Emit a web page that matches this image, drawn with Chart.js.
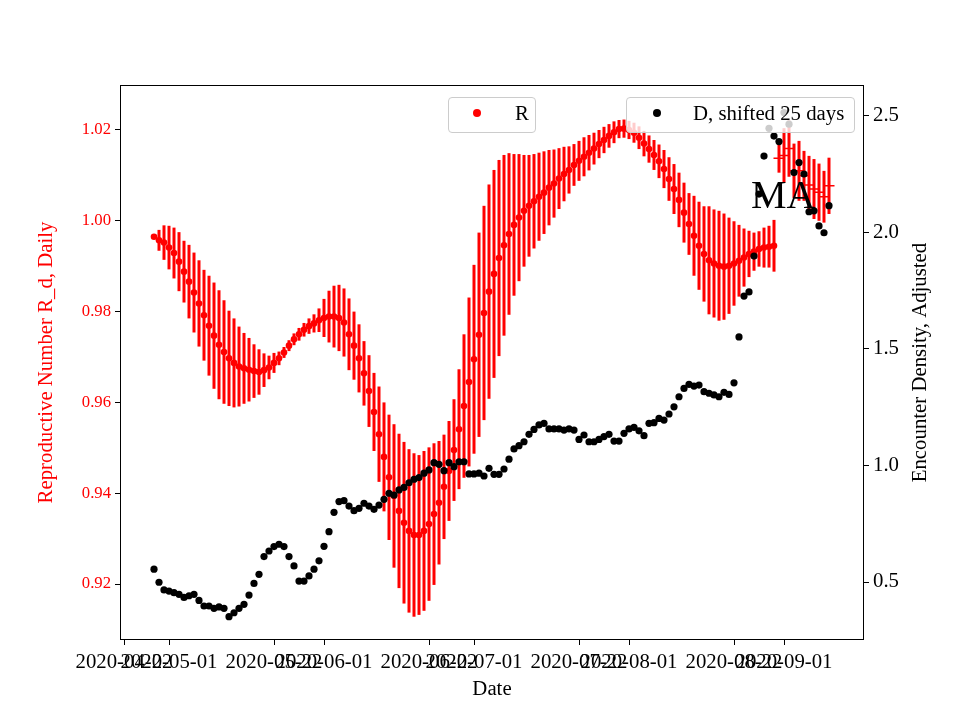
<!DOCTYPE html>
<html>
<head>
<meta charset="utf-8">
<title>R and encounter density</title>
<script src="https://cdn.jsdelivr.net/npm/chart.js@4.4.1/dist/chart.umd.min.js"></script>
<style>
  html, body { margin: 0; padding: 0; background: #fff; }
  #wrap { position: relative; width: 960px; height: 720px; }
  .legenda { position: absolute; box-sizing: border-box; border: 1px solid #cccccc; border-radius: 4px;
             background: rgba(255,255,255,0.8); font-family: 'Liberation Serif', 'Times New Roman', serif; font-size: 20.8px; }
  .legenda .ponto { position: absolute; width: 8px; height: 8px; border-radius: 50%; top: 11px; }
  .legenda .texto { position: absolute; top: 3px; line-height: 24px; white-space: nowrap; color: #000; }
</style>
</head>
<body>
<div id="wrap">
  <canvas id="grafico" width="960" height="720"></canvas>
  <div class="legenda" style="left:448px;top:97px;width:88px;height:36px">
    <span class="ponto" style="left:24px;background:#ff0000"></span>
    <span class="texto" style="left:66px">R</span>
  </div>
  <div class="legenda" style="left:626px;top:97px;width:229px;height:36px">
    <span class="ponto" style="left:26px;background:#000000"></span>
    <span class="texto" style="left:66px">D, shifted 25 days</span>
  </div>
</div>
<script>
// dados (um valor por dia)
const rStart = '2020-04-28';
const rValues = [
  0.9965, 0.9957, 0.9952, 0.9941, 0.9929, 0.9910, 0.9888, 0.9866, 0.9842, 0.9818,
  0.9792, 0.9769, 0.9747, 0.9727, 0.9711, 0.9697, 0.9687, 0.9679, 0.9675, 0.9672,
  0.9669, 0.9667, 0.9671, 0.9677, 0.9687, 0.9697, 0.9710, 0.9725, 0.9739, 0.9750,
  0.9760, 0.9768, 0.9774, 0.9781, 0.9786, 0.9789, 0.9789, 0.9786, 0.9776, 0.9750,
  0.9725, 0.9697, 0.9664, 0.9625, 0.9579, 0.9530, 0.9480, 0.9435, 0.9394, 0.9361,
  0.9335, 0.9317, 0.9308, 0.9308, 0.9317, 0.9332, 0.9354, 0.9379, 0.9414, 0.9449,
  0.9495, 0.9541, 0.9592, 0.9645, 0.9695, 0.9749, 0.9797, 0.9844, 0.9883, 0.9918,
  0.9946, 0.9971, 0.9991, 1.0007, 1.0022, 1.0033, 1.0043, 1.0053, 1.0062, 1.0073,
  1.0082, 1.0093, 1.0103, 1.0112, 1.0123, 1.0132, 1.0141, 1.0150, 1.0159, 1.0169,
  1.0178, 1.0187, 1.0195, 1.0202, 1.0203, 1.0200, 1.0194, 1.0183, 1.0170, 1.0158,
  1.0145, 1.0131, 1.0114, 1.0092, 1.0070, 1.0046, 1.0018, 0.9993, 0.9967, 0.9945,
  0.9927, 0.9913, 0.9906, 0.9901, 0.9899, 0.9901, 0.9906, 0.9912, 0.9919, 0.9927,
  0.9932, 0.9938, 0.9941, 0.9943, 0.9945
];
const rErrors = [
  0.0005, 0.0023, 0.0038, 0.0048, 0.0056, 0.0065, 0.0068, 0.0081, 0.0088, 0.0095,
  0.0100, 0.0110, 0.0117, 0.0120, 0.0114, 0.0105, 0.0098, 0.0088, 0.0078, 0.0070,
  0.0059, 0.0050, 0.0037, 0.0026, 0.0022, 0.0015, 0.0012, 0.0012, 0.0013, 0.0014,
  0.0015, 0.0017, 0.0020, 0.0026, 0.0042, 0.0057, 0.0068, 0.0073, 0.0075, 0.0079,
  0.0075, 0.0075, 0.0071, 0.0079, 0.0086, 0.0105, 0.0120, 0.0138, 0.0158, 0.0170,
  0.0178, 0.0180, 0.0180, 0.0176, 0.0176, 0.0169, 0.0156, 0.0136, 0.0115, 0.0110,
  0.0112, 0.0132, 0.0158, 0.0186, 0.0208, 0.0225, 0.0236, 0.0236, 0.0229, 0.0216,
  0.0199, 0.0178, 0.0156, 0.0140, 0.0123, 0.0112, 0.0104, 0.0097, 0.0091, 0.0083,
  0.0075, 0.0067, 0.0060, 0.0052, 0.0046, 0.0044, 0.0043, 0.0039, 0.0035, 0.0031,
  0.0029, 0.0026, 0.0024, 0.0020, 0.0020, 0.0020, 0.0022, 0.0025, 0.0028, 0.0030,
  0.0033, 0.0037, 0.0042, 0.0048, 0.0055, 0.0060, 0.0066, 0.0068, 0.0088, 0.0097,
  0.0105, 0.0119, 0.0119, 0.0121, 0.0117, 0.0106, 0.0093, 0.0079, 0.0064, 0.0051,
  0.0042, 0.0039, 0.0044, 0.0046, 0.0057
];
const r2Start = '2020-08-31';
const r2Values = [1.0138, 1.0144, 1.0159, 1.0110, 1.0110, 1.0099, 1.0079, 1.0070, 1.0063, 1.0053, 1.0077];
const r2Errors = [0.0032, 0.0060, 0.0062, 0.0060, 0.0066, 0.0055, 0.0064, 0.0066, 0.0063, 0.0057, 0.0062];

const dStart = '2020-04-28';
const dValues = [
  0.555, 0.499, 0.466, 0.461, 0.454, 0.447, 0.434, 0.441, 0.447, 0.421,
  0.397, 0.397, 0.387, 0.393, 0.387, 0.351, 0.368, 0.387, 0.404, 0.444,
  0.494, 0.533, 0.609, 0.633, 0.652, 0.662, 0.652, 0.609, 0.569, 0.504,
  0.504, 0.526, 0.555, 0.591, 0.653, 0.716, 0.799, 0.845, 0.849, 0.826,
  0.806, 0.816, 0.838, 0.826, 0.812, 0.830, 0.855, 0.881, 0.873, 0.895,
  0.906, 0.926, 0.941, 0.948, 0.967, 0.981, 1.012, 1.005, 0.978, 1.012,
  0.995, 1.016, 1.016, 0.964, 0.964, 0.967, 0.955, 0.988, 0.962, 0.962,
  0.985, 1.027, 1.071, 1.085, 1.102, 1.134, 1.155, 1.174, 1.181, 1.157,
  1.157, 1.157, 1.152, 1.157, 1.152, 1.112, 1.131, 1.102, 1.102, 1.112,
  1.124, 1.134, 1.105, 1.105, 1.138, 1.157, 1.164, 1.149, 1.128, 1.181,
  1.184, 1.202, 1.195, 1.221, 1.252, 1.295, 1.331, 1.348, 1.341, 1.345,
  1.317, 1.310, 1.303, 1.295, 1.314, 1.305, 1.355, 1.552, 1.727, 1.745,
  1.899, 2.165, 2.328, 2.447, 2.414, 2.390, 2.515, 2.465, 2.257, 2.300,
  2.251, 2.089, 2.093, 2.028, 1.999, 2.115
];

const xTickLabels = ['2020-04-22', '2020-05-01', '2020-05-22', '2020-06-01', '2020-06-22',
  '2020-07-01', '2020-07-22', '2020-08-01', '2020-08-22', '2020-09-01'];
const rTicks = [0.92, 0.94, 0.96, 0.98, 1.00, 1.02];
const dTicks = [0.5, 1.0, 1.5, 2.0, 2.5];

const fonte = "'Liberation Serif', 'Times New Roman', serif";

// dias contados a partir de 2020-05-01
function diaDe(texto) {
  return (Date.parse(texto) - Date.parse('2020-05-01')) / 86400000;
}

function pontos(inicio, valores) {
  const d0 = diaDe(inicio);
  return valores.map((v, i) => ({ x: d0 + i, y: v }));
}

function barras(inicio, valores, erros) {
  const d0 = diaDe(inicio);
  return valores.map((v, i) => ({ x: d0 + i, y: [v - erros[i], v + erros[i]] }));
}

const extras = {
  id: 'extras',
  afterDatasetsDraw(chart) {
    const ctx = chart.ctx;
    ctx.save();
    ctx.fillStyle = '#000';
    ctx.font = '40px ' + fonte;
    ctx.textBaseline = 'alphabetic';
    ctx.textAlign = 'left';
    ctx.fillText('MA', 751, 208);
    ctx.restore();
  },
  afterDraw(chart) {
    const { ctx, chartArea } = chart;
    ctx.save();
    ctx.strokeStyle = '#000';
    ctx.lineWidth = 1;
    ctx.strokeRect(Math.round(chartArea.left) + 0.5, Math.round(chartArea.top) + 0.5,
      Math.round(chartArea.right - chartArea.left) - 1, Math.round(chartArea.bottom - chartArea.top) - 1);
    ctx.fillStyle = '#000';
    ctx.font = '20.8px ' + fonte;
    ctx.textAlign = 'center';
    ctx.textBaseline = 'middle';
    ctx.translate(921, (chartArea.top + chartArea.bottom) / 2);
    ctx.rotate(-Math.PI / 2);
    ctx.fillText('Encounter Density, Adjusted', 0, 0);
    ctx.restore();
  }
};

const ctx = document.getElementById('grafico').getContext('2d');
const grafico = new Chart(ctx, {
  type: 'scatter',
  data: {
    datasets: [
      {
        label: 'D, shifted 25 days',
        data: pontos(dStart, dValues),
        yAxisID: 'y1',
        backgroundColor: '#000000',
        borderWidth: 0,
        pointRadius: 3.6,
        order: 0
      },
      {
        label: 'R',
        data: pontos(rStart, rValues),
        yAxisID: 'y',
        backgroundColor: '#ff0000',
        borderWidth: 0,
        pointRadius: 3.3,
        order: 1
      },
      {
        label: 'R+',
        data: pontos(r2Start, r2Values),
        yAxisID: 'y',
        pointStyle: 'cross',
        borderColor: '#ff0000',
        borderWidth: 1.5,
        pointRadius: 5.5,
        order: 1
      },
      {
        type: 'bar',
        label: 'R erro',
        data: barras(rStart, rValues, rErrors),
        yAxisID: 'y',
        backgroundColor: '#ff0000',
        grouped: false,
        maxBarThickness: 3,
        order: 2
      },
      {
        type: 'bar',
        label: 'R+ erro',
        data: barras(r2Start, r2Values, r2Errors),
        yAxisID: 'y',
        backgroundColor: '#ff0000',
        grouped: false,
        maxBarThickness: 3,
        order: 2
      }
    ]
  },
  options: {
    responsive: false,
    animation: false,
    devicePixelRatio: 1,
    events: [],
    layout: { padding: { top: 85, left: 0, right: 0, bottom: 0 } },
    plugins: { legend: { display: false }, tooltip: { enabled: false } },
    scales: {
      x: {
        type: 'linear',
        min: -9.8,
        max: 139,
        offset: false,
        afterBuildTicks: (scale) => { scale.ticks = xTickLabels.map(s => ({ value: diaDe(s) })); },
        afterFit: (scale) => { scale.height = 80; },
        ticks: {
          autoSkip: false, maxRotation: 0, minRotation: 0, padding: 5,
          color: '#000', font: { family: fonte, size: 20.8 },
          callback: (v, i) => xTickLabels[i]
        },
        grid: { drawOnChartArea: false, offset: false, tickLength: 5, color: '#000' },
        border: { display: false },
        title: { display: true, text: 'Date', color: '#000', font: { family: fonte, size: 20.8 }, padding: { bottom: 17.5 } }
      },
      y: {
        position: 'left',
        min: 0.90767,
        max: 1.02991,
        afterBuildTicks: (scale) => { scale.ticks = rTicks.map(v => ({ value: v })); },
        afterFit: (scale) => { scale.width = 120; },
        ticks: {
          padding: 4, color: '#ff0000', font: { family: fonte, size: 16.7 },
          callback: (v) => Number(v).toFixed(2)
        },
        grid: { drawOnChartArea: false, tickLength: 5, color: '#000' },
        border: { display: false },
        title: { display: true, text: 'Reproductive Number R_d, Daily', color: '#ff0000', font: { family: fonte, size: 20.8 }, padding: { top: 34.5 } }
      },
      y1: {
        position: 'right',
        min: 0.2511,
        max: 2.633,
        afterBuildTicks: (scale) => { scale.ticks = dTicks.map(v => ({ value: v })); },
        afterFit: (scale) => { scale.width = 96; },
        ticks: {
          padding: 4, color: '#000', font: { family: fonte, size: 20.8 },
          callback: (v) => Number(v).toFixed(1)
        },
        grid: { drawOnChartArea: false, tickLength: 5, color: '#000' },
        border: { display: false }
      }
    }
  },
  plugins: [extras]
});
</script>
</body>
</html>
